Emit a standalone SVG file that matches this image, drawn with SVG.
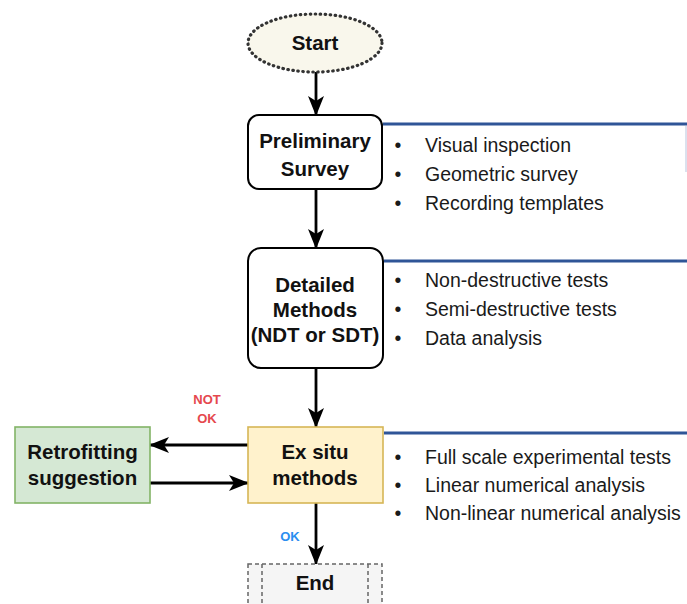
<svg xmlns="http://www.w3.org/2000/svg" width="687" height="604" viewBox="0 0 687 604">
  <style>
    .box { stroke: #000; stroke-width: 2; fill: #fff; }
    .lbl { font-family: "Liberation Sans", Arial, sans-serif; font-weight: bold; font-size: 20.5px; fill: #111; text-anchor: middle; }
    .item { font-family: "Liberation Sans", Arial, sans-serif; font-size: 19.5px; fill: #1a1a1a; }
    .bul { font-family: "Liberation Sans", Arial, sans-serif; font-size: 19.5px; fill: #1a1a1a; text-anchor: middle; }
    .edge { stroke: #000; stroke-width: 2.8; fill: none; }
    .rule { stroke: #2f5597; stroke-width: 3; fill: none; }
    .tag { font-family: "Liberation Sans", Arial, sans-serif; font-weight: bold; font-size: 13px; text-anchor: middle; }
  </style>
  <defs>
    <marker id="head" viewBox="0 0 20 16" refX="19" refY="8" markerWidth="20" markerHeight="16" markerUnits="userSpaceOnUse" orient="auto">
      <path d="M0,0 L20,8 L0,16 L5,8 Z" fill="#000"/>
    </marker>
  </defs>

  <rect width="687" height="604" fill="#fff"/>

  <!-- connectors -->
  <g id="connectors">
    <line class="edge" x1="316" y1="72" x2="316" y2="115" marker-end="url(#head)"/>
    <line class="edge" x1="316" y1="189" x2="316" y2="248" marker-end="url(#head)"/>
    <line class="edge" x1="316" y1="368" x2="316" y2="427" marker-end="url(#head)"/>
    <line class="edge" x1="248" y1="445" x2="150" y2="445" marker-end="url(#head)"/>
    <line class="edge" x1="150" y1="483" x2="248" y2="483" marker-end="url(#head)"/>
    <line class="edge" x1="316" y1="503" x2="316" y2="564" marker-end="url(#head)"/>
    <text class="tag" x="207" y="404" fill="#e5484d">NOT</text>
    <text class="tag" x="207" y="423" fill="#e5484d">OK</text>
    <text class="tag" x="290" y="541" fill="#2b8ef0">OK</text>
  </g>

  <!-- start -->
  <g id="start">
    <ellipse cx="315" cy="43" rx="67" ry="29" fill="#f9f7ec" stroke="#333" stroke-width="3.2" stroke-dasharray="0.5 4.5" stroke-linecap="round"/>
    <text class="lbl" x="315" y="50">Start</text>
  </g>

  <!-- preliminary survey -->
  <g id="preliminary">
    <rect class="box" x="248" y="115" width="134" height="74" rx="11"/>
    <text class="lbl" x="315" y="148">Preliminary</text>
    <text class="lbl" x="315" y="176">Survey</text>
  </g>
  <g id="preliminary-notes">
    <line class="rule" x1="383" y1="124" x2="687" y2="124"/>
    <line x1="686" y1="126" x2="686" y2="172" stroke="#c3cde3" stroke-width="1.2"/>
    <text class="bul" x="398" y="152">•</text>
    <text class="item" x="425" y="152">Visual inspection</text>
    <text class="bul" x="398" y="181">•</text>
    <text class="item" x="425" y="181">Geometric survey</text>
    <text class="bul" x="398" y="210">•</text>
    <text class="item" x="425" y="210">Recording templates</text>
  </g>

  <!-- detailed methods -->
  <g id="detailed">
    <rect class="box" x="248" y="248" width="135" height="120" rx="13"/>
    <text class="lbl" x="315" y="292">Detailed</text>
    <text class="lbl" x="315" y="317">Methods</text>
    <text class="lbl" x="315" y="342">(NDT or SDT)</text>
  </g>
  <g id="detailed-notes">
    <line class="rule" x1="384" y1="261" x2="687" y2="261"/>
    <text class="bul" x="398" y="287">•</text>
    <text class="item" x="425" y="287">Non-destructive tests</text>
    <text class="bul" x="398" y="316">•</text>
    <text class="item" x="425" y="316">Semi-destructive tests</text>
    <text class="bul" x="398" y="345">•</text>
    <text class="item" x="425" y="345">Data analysis</text>
  </g>

  <!-- ex situ methods -->
  <g id="exsitu">
    <rect x="248" y="427" width="135" height="76" fill="#fff2cc" stroke="#d6b656" stroke-width="1.6"/>
    <text class="lbl" x="315" y="459">Ex situ</text>
    <text class="lbl" x="315" y="485">methods</text>
  </g>
  <g id="exsitu-notes">
    <line class="rule" x1="384" y1="433" x2="687" y2="433"/>
    <text class="bul" x="398" y="464">•</text>
    <text class="item" x="425" y="464">Full scale experimental tests</text>
    <text class="bul" x="398" y="492">•</text>
    <text class="item" x="425" y="492">Linear numerical analysis</text>
    <text class="bul" x="398" y="520">•</text>
    <text class="item" x="425" y="520">Non-linear numerical analysis</text>
  </g>

  <!-- retrofitting -->
  <g id="retrofitting">
    <rect x="15" y="427" width="135" height="76" fill="#d5e8d4" stroke="#82b366" stroke-width="1.6"/>
    <text class="lbl" x="82.5" y="459">Retrofitting</text>
    <text class="lbl" x="82.5" y="485">suggestion</text>
  </g>

  <!-- end -->
  <g id="end">
    <rect x="248" y="564" width="134" height="50" fill="#f5f5f5" stroke="#666" stroke-width="1.5" stroke-dasharray="4 3"/>
    <line x1="262" y1="564" x2="262" y2="614" stroke="#666" stroke-width="1.5" stroke-dasharray="4 3"/>
    <line x1="368" y1="564" x2="368" y2="614" stroke="#666" stroke-width="1.5" stroke-dasharray="4 3"/>
    <text class="lbl" x="315" y="590" fill="#333">End</text>
  </g>
</svg>
